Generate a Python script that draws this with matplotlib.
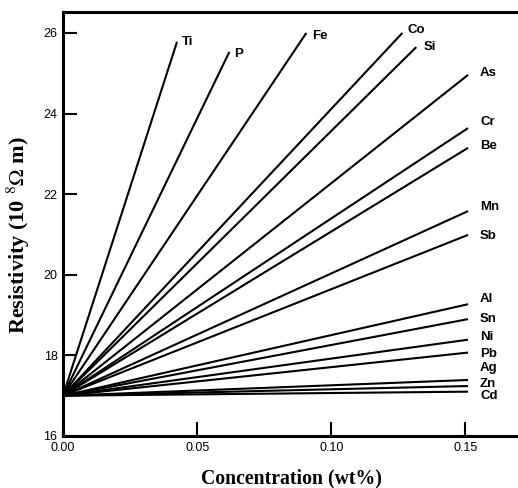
import matplotlib
matplotlib.use("Agg")
import matplotlib.pyplot as plt

# residual resistivity of pure base, then end points of each solute line
base_conc = 0.0
base_res = 17.0

elements = ["Ti", "P", "Fe", "Co", "Si", "As", "Cr", "Be", "Mn", "Sb",
            "Al", "Sn", "Ni", "Pb", "Ag", "Zn", "Cd"]
end_conc = [0.0425, 0.062, 0.0907, 0.1265, 0.1317, 0.151, 0.151, 0.151, 0.151, 0.151,
            0.151, 0.151, 0.151, 0.151, 0.151, 0.151, 0.151]
end_res = [25.78, 25.53, 26.0, 26.0, 25.65, 24.96, 23.64, 23.15, 21.58, 20.99,
           19.27, 18.90, 18.39, 18.07, 17.39, 17.24, 17.10]

xticks = [0.0, 0.05, 0.10, 0.15]
xtick_labels = ["0.00", "0.05", "0.10", "0.15"]
yticks = [16, 18, 20, 22, 24, 26]

# label offsets in pixels (dx, dy) from the line end
label_offset = {
    "Ti": (5, 0), "P": (5, -2), "Fe": (6, -3), "Co": (5, 3), "Si": (7, 0),
    "As": (12, 2), "Cr": (12, 6), "Be": (12, 2), "Mn": (12, 4), "Sb": (12, -1),
    "Al": (12, 5), "Sn": (12, 0), "Ni": (12, 3), "Pb": (12, -1), "Ag": (12, 12),
    "Zn": (12, 2), "Cd": (12, -4),
}

plt.rcParams["mathtext.fontset"] = "stix"

fig = plt.figure(figsize=(5.18, 4.88), dpi=100)
ax = fig.add_axes([63 / 518, 1 - 436 / 488, 1 - 63 / 518 + 0.002, (436 - 12) / 488])

for name, xe, ye in zip(elements, end_conc, end_res):
    ax.plot([base_conc, xe], [base_res, ye], color="black", lw=1.5, solid_capstyle="butt")
    dx, dy = label_offset[name]
    ax.annotate(name, (xe, ye), xytext=(dx, dy), textcoords="offset pixels",
                ha="left", va="center", fontsize=9.5, family="Liberation Sans",
                fontweight="bold")

ax.set_xlim(0, 0.17)
ax.set_ylim(16, 26.52)
ax.set_xticks(xticks)
ax.set_xticklabels(xtick_labels)
ax.set_yticks(yticks)
ax.tick_params(direction="in", length=10, width=1.5, labelsize=9, pad=4)
for lab in ax.get_xticklabels() + ax.get_yticklabels():
    lab.set_family("Liberation Sans")

for s in ["left", "bottom", "top"]:
    ax.spines[s].set_linewidth(2.2)
ax.spines["right"].set_visible(False)

ax.set_xlabel("Concentration (wt%)", fontsize=14.2, family="Liberation Serif",
              fontweight="bold", labelpad=11)
ax.set_ylabel(r"Resistivity (10 $^{8}\Omega$ m)", fontsize=16, family="Liberation Serif",
              fontweight="bold")
ax.yaxis.set_label_coords(-0.068, 0.474)

fig.savefig("out.png", dpi=100)
